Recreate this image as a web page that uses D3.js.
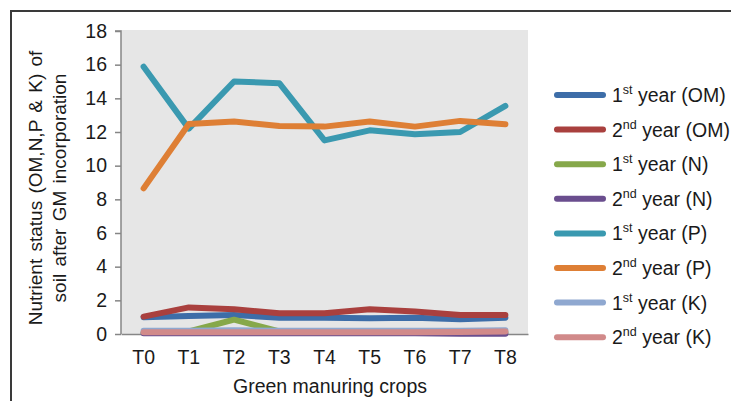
<!DOCTYPE html>
<html>
<head>
<meta charset="utf-8">
<script src="https://cdn.jsdelivr.net/npm/d3@7"></script>
<style>
  html, body { margin: 0; padding: 0; background: #fff; }
  svg { display: block; font-family: "Liberation Sans", Arial, sans-serif; }
</style>
</head>
<body>
<svg id="chart" width="731" height="401"></svg>
<script>
// Treatments along the x axis
const categories = ["T0", "T1", "T2", "T3", "T4", "T5", "T6", "T7", "T8"];
const yTicks = [0, 2, 4, 6, 8, 10, 12, 14, 16, 18];

// Nutrient status per treatment and year
const om1 = [1.00, 1.07, 1.13, 0.97, 0.97, 0.93, 0.97, 0.87, 0.97];
const om2 = [1.03, 1.58, 1.47, 1.23, 1.23, 1.47, 1.33, 1.13, 1.13];
const n1  = [0.08, 0.15, 0.85, 0.15, 0.10, 0.10, 0.10, 0.10, 0.10];
const n2  = [0.04, 0.04, 0.04, 0.04, 0.04, 0.04, 0.04, 0.02, 0.02];
const p1  = [15.88, 12.20, 15.00, 14.90, 11.50, 12.10, 11.87, 12.00, 13.55];
const p2  = [8.65, 12.48, 12.62, 12.36, 12.32, 12.62, 12.32, 12.66, 12.46];
const k1  = [0.20, 0.20, 0.22, 0.20, 0.20, 0.20, 0.20, 0.20, 0.22];
const k2  = [0.10, 0.10, 0.10, 0.10, 0.10, 0.10, 0.10, 0.12, 0.15];

const seriesNames = [
  ["1", "st", "(OM)"], ["2", "nd", "(OM)"],
  ["1", "st", "(N)"],  ["2", "nd", "(N)"],
  ["1", "st", "(P)"],  ["2", "nd", "(P)"],
  ["1", "st", "(K)"],  ["2", "nd", "(K)"]
];
const seriesColors = ["#3d6da8", "#a9403e", "#86a84a", "#6a4e8e", "#3a99b0", "#de7f35", "#8fa8d0", "#d18a8a"];
const seriesValues = [om1, om2, n1, n2, p1, p2, k1, k2];

const series = seriesValues.map((vals, i) => ({
  name: seriesNames[i], color: seriesColors[i], values: vals
}));

const svg = d3.select("#chart");
const plot = { left: 121, right: 528, top: 31, bottom: 334 };
const textColor = "#1a1a1a";

// Outer frame (left and top edges visible)
svg.append("path")
  .attr("d", "M11,401 V11 H731")
  .attr("fill", "none")
  .attr("stroke", "#3a3a3a")
  .attr("stroke-width", 2);

const x = d3.scaleBand().domain(categories).range([plot.left, plot.right]);
const y = d3.scaleLinear().domain([0, 18]).range([plot.bottom, plot.top]);

// Plot background
svg.append("rect")
  .attr("x", plot.left).attr("y", plot.top - 1)
  .attr("width", plot.right - plot.left).attr("height", plot.bottom - plot.top + 1)
  .attr("fill", "#e6e6e6");

// Y axis
const yAxis = svg.append("g")
  .attr("transform", `translate(${plot.left},0)`)
  .call(d3.axisLeft(y).tickValues(yTicks).tickSize(6).tickPadding(8));
yAxis.select(".domain").attr("stroke", "#868686").attr("stroke-width", 1.5)
  .attr("d", `M-6,${y(18)}H0V${y(0)}`);
yAxis.selectAll(".tick line").attr("stroke", "#868686").attr("stroke-width", 1.5);
yAxis.selectAll(".tick text")
  .attr("font-size", 19.5).attr("fill", textColor)
  .attr("font-family", "Liberation Sans, Arial, sans-serif");

// X axis
const xAxis = svg.append("g")
  .attr("transform", `translate(0,${plot.bottom})`)
  .call(d3.axisBottom(x).tickSize(0).tickPadding(16));
xAxis.select(".domain").attr("stroke", "#868686").attr("stroke-width", 1.5);
xAxis.selectAll(".tick text")
  .attr("font-size", 19.5).attr("fill", textColor)
  .attr("font-family", "Liberation Sans, Arial, sans-serif");

// Series lines
const line = d3.line()
  .x((d, i) => x(categories[i]) + x.bandwidth() / 2)
  .y(d => y(d));

svg.append("g").selectAll("path")
  .data(series)
  .join("path")
  .attr("d", d => line(d.values))
  .attr("fill", "none")
  .attr("stroke", d => d.color)
  .attr("stroke-width", 6)
  .attr("stroke-linecap", "round")
  .attr("stroke-linejoin", "round");

// Axis titles
svg.append("text")
  .attr("x", 330).attr("y", 393)
  .attr("text-anchor", "middle")
  .attr("font-size", 19.5).attr("fill", textColor)
  .text("Green manuring crops");

const yTitle = svg.append("text")
  .attr("transform", "translate(0,188) rotate(-90)")
  .attr("text-anchor", "middle")
  .attr("font-size", 19).attr("word-spacing", 2).attr("fill", textColor);
yTitle.append("tspan").attr("x", 0).attr("y", 42).text("Nutrient status (OM,N,P & K) of");
yTitle.append("tspan").attr("x", 0).attr("y", 66).text("soil after GM incorporation");

// Legend
const legend = svg.append("g");
const rows = legend.selectAll("g")
  .data(series)
  .join("g")
  .attr("transform", (d, i) => `translate(557,${95 + i * 34.6})`);
rows.append("line")
  .attr("x1", 0).attr("x2", 46)
  .attr("stroke", d => d.color)
  .attr("stroke-width", 6)
  .attr("stroke-linecap", "round");
const labels = rows.append("text")
  .attr("x", 55).attr("y", 7)
  .attr("font-size", 19.5).attr("fill", textColor);
labels.append("tspan").text(d => d.name[0]);
labels.append("tspan").attr("font-size", 12.5).attr("dy", -8).text(d => d.name[1]);
labels.append("tspan").attr("dy", 8).text(d => " year (" + d.name[2].slice(1));
</script>
</body>
</html>
